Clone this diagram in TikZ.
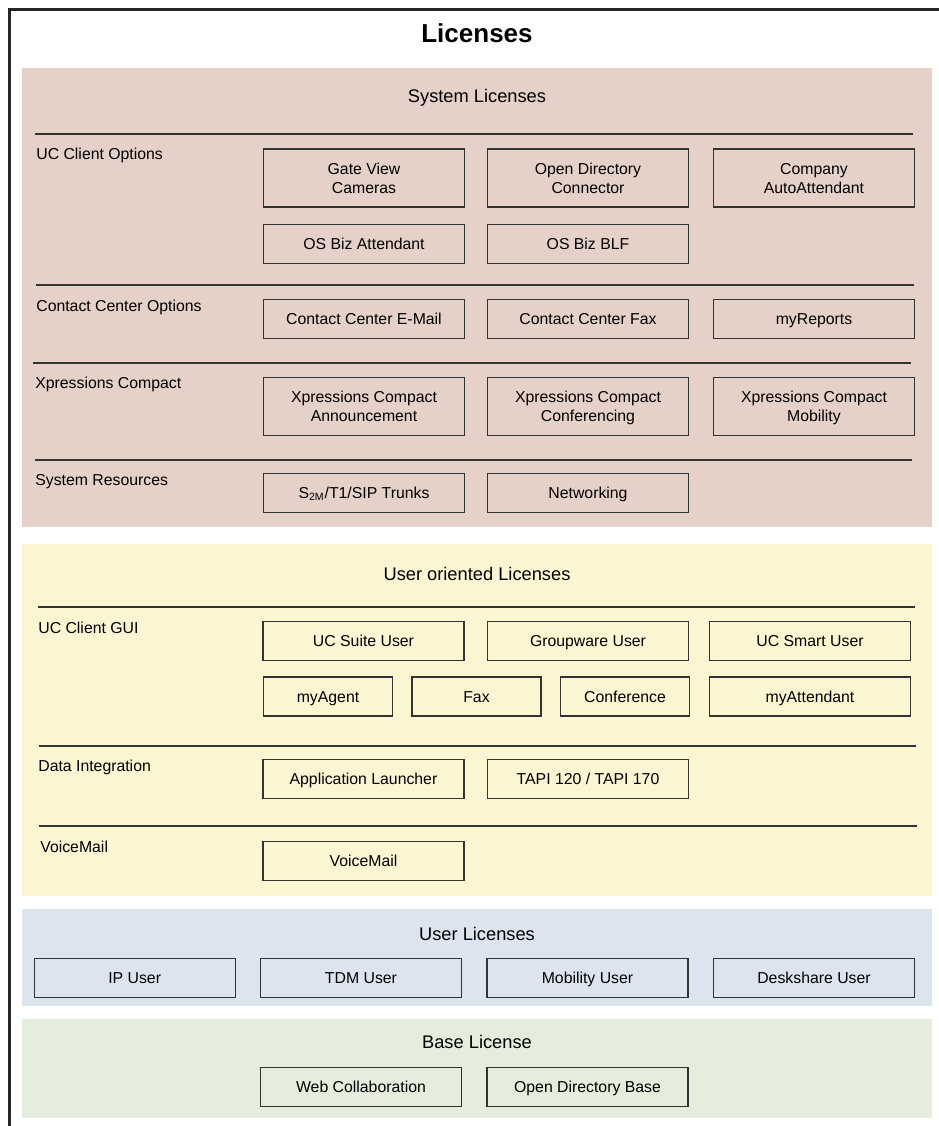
\documentclass[tikz,border=0pt]{standalone}
\usepackage{fontspec}
\setmainfont{Liberation Sans}
\usepackage{xcolor}
\usetikzlibrary{positioning}
\definecolor{syspink}{HTML}{E5D1C8}
\definecolor{useryellow}{HTML}{FBF5D2}
\definecolor{userblue}{HTML}{DCE5EF}
\definecolor{basegreen}{HTML}{E5EDDC}
\definecolor{boxline}{HTML}{333333}

\begin{document}
\begin{tikzpicture}[x=0.02cm, y=-0.02cm,
    licbox/.style={draw=boxline, line width=0.65pt, minimum width=4.02cm, minimum height=0.78cm,
        inner sep=1pt, align=center, text height=8.34pt, text depth=1.9pt,
        font=\fontsize{9}{10.8}\selectfont},
    tallbox/.style={licbox, minimum height=1.16cm, text height=19.14pt},
    smallbox/.style={licbox, minimum width=2.58cm},
    rowlabel/.style={anchor=north west, inner sep=0pt, font=\fontsize{9}{10.8}\selectfont},
    headtext/.style={anchor=base, inner sep=0pt, font=\fontsize{10.4}{12.5}\selectfont},
    sepline/.style={draw=boxline, line width=0.75pt}]
\useasboundingbox (0,0) rectangle (938,1126);

% ---- Frame and title ----
\draw[line width=1.3pt, black!85] (9.5,1140) -- (9.5,9.5) -- (950,9.5);
\node[anchor=base, inner sep=0pt, font=\fontsize{14.8}{18}\selectfont\bfseries] (title) at (477,42.7) {Licenses};

% ---- System Licenses ----
\fill[syspink] (22,68) rectangle (932,527);
\node[headtext] (syshead) at (477,102.7) {System Licenses};

\draw[sepline] (35,134) -- (913,134);
\node[rowlabel] (uclabel) at (36,148) {UC Client Options};
\node[tallbox] (gateview) at (364,178) {Gate View\\Cameras};
\node[tallbox] (opendir) at (588,178) {Open Directory\\Connector};
\node[tallbox] (autoatt) at (814,178) {Company\\AutoAttendant};
\node[licbox] (bizatt) at (364,244) {OS Biz Attendant};
\node[licbox] (bizblf) at (588,244) {OS Biz BLF};

\draw[sepline] (36,285) -- (914,285);
\node[rowlabel] (cclabel) at (36,299.5) {Contact Center Options};
\node[licbox] (ccmail) at (364,319) {Contact Center E-Mail};
\node[licbox] (ccfax) at (588,319) {Contact Center Fax};
\node[licbox] (myrep) at (814,319) {myReports};

\draw[sepline] (33,363) -- (911,363);
\node[rowlabel] (xplabel) at (35,377) {Xpressions Compact};
\node[tallbox] (xpann) at (364,406.5) {Xpressions Compact\\Announcement};
\node[tallbox] (xpconf) at (588,406.5) {Xpressions Compact\\Conferencing};
\node[tallbox] (xpmob) at (814,406.5) {Xpressions Compact\\Mobility};

\draw[sepline] (35,460) -- (912,460);
\node[rowlabel] (reslabel) at (35,474) {System Resources};
\node[licbox] (trunks) at (364,493) {S\textsubscript{2M}/T1/SIP Trunks};
\node[licbox] (netw) at (588,493) {Networking};

% ---- User oriented Licenses ----
\fill[useryellow] (22,544) rectangle (932,896);
\node[headtext] (uohead) at (477,580) {User oriented Licenses};

\draw[sepline] (38,607) -- (915,607);
\node[rowlabel] (guilabel) at (38,622) {UC Client GUI};
\node[licbox] (ucsuite) at (363.5,641) {UC Suite User};
\node[licbox] (groupw) at (588,641) {Groupware User};
\node[licbox] (ucsmart) at (810,641) {UC Smart User};
\node[smallbox] (myagent) at (328,696.5) {myAgent};
\node[smallbox] (fax) at (476.5,696.5) {Fax};
\node[smallbox] (confer) at (625,696.5) {Conference};
\node[licbox] (myatt) at (810,696.5) {myAttendant};

\draw[sepline] (39,746) -- (916,746);
\node[rowlabel] (datalabel) at (38,760) {Data Integration};
\node[licbox] (applaunch) at (363.5,779) {Application Launcher};
\node[licbox] (tapi) at (588,779) {TAPI 120 / TAPI 170};

\draw[sepline] (39,826) -- (917,826);
\node[rowlabel] (vmlabel) at (40,841) {VoiceMail};
\node[licbox] (voicemail) at (363.5,861) {VoiceMail};

% ---- User Licenses ----
\fill[userblue] (22,909) rectangle (932,1006);
\node[headtext] (userhead) at (477,940) {User Licenses};
\node[licbox] (ipuser) at (134.7,978) {IP User};
\node[licbox] (tdmuser) at (361,978) {TDM User};
\node[licbox] (mobuser) at (587.5,978) {Mobility User};
\node[licbox] (deskuser) at (814,978) {Deskshare User};

% ---- Base License ----
\fill[basegreen] (22,1019) rectangle (932,1118);
\node[headtext] (basehead) at (477,1048.3) {Base License};
\node[licbox] (webcollab) at (361,1087) {Web Collaboration};
\node[licbox] (odbase) at (587.5,1087) {Open Directory Base};

\end{tikzpicture}
\end{document}
